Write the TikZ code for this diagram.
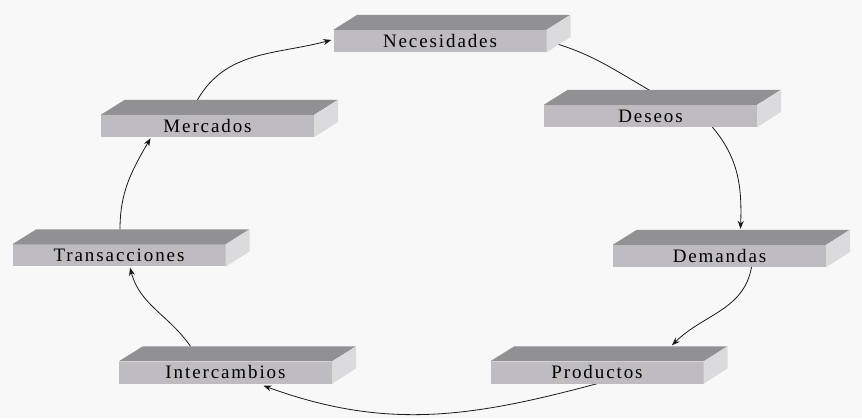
\documentclass[tikz,border=0pt]{standalone}
\usepackage{fontspec}
\newfontfamily\cajafont[LetterSpace=10]{Liberation Serif}
\usetikzlibrary{arrows.meta}

\definecolor{fondo}{RGB}{248,248,248}
\definecolor{cajatop}{RGB}{145,145,147}
\definecolor{cajafront}{RGB}{190,188,192}
\definecolor{cajaside}{RGB}{219,219,221}

\pgfdeclarelayer{bg}
\pgfsetlayers{bg,main}

\begin{document}
\begin{tikzpicture}[x=1pt,y=1pt,
		caja/.style={fill=cajafront, minimum width=213pt, minimum height=22pt, inner sep=0pt,
			font=\cajafont\fontsize{19}{22}\selectfont},
		flecha/.style={draw=black!90, line width=0.8pt, -{Stealth[length=8pt,width=6pt]}}]
		
		\useasboundingbox (0,0) rectangle (862,418);
		
		% Front faces of the boxes
		\node[caja] (nec) at (440,377) {Necesidades};
		\node[caja] (des) at (650.5,302) {Deseos};
		\node[caja] (dem) at (719.5,162) {Demandas};
		\node[caja] (pro) at (597,45.5) {Productos};
		\node[caja] (int) at (225.5,45.5) {Intercambios};
		\node[caja] (tra) at (119,162.5) {Transacciones};
		\node[caja] (mer) at (207.5,292) {Mercados};
		
		% Top and side faces
		\foreach \n in {nec,des,dem,pro,int,tra,mer} {
			\fill[cajatop] (\n.north west) -- ++(24,15) -- ++(213,0) -- (\n.north east) -- cycle;
			\fill[cajaside] (\n.north east) -- ++(24,15) -- ++(0,-22) -- (\n.south east) -- cycle;
		}
		
		% The cycle, drawn behind the boxes
		\begin{pgfonlayer}{bg}
			\fill[fondo] (0,0) rectangle (862,418);
			\draw[flecha,-] (nec.east) to[out=-15,in=150] ([yshift=14]des.north);
			\draw[flecha] ([xshift=62]des.south) to[out=-50,in=88] ([shift={(21,16)}]dem.north);
			\draw[flecha] ([xshift=32]dem.south) to[out=-100,in=45] ([shift={(75,16)}]pro.north);
			\draw[flecha] (pro.south) to[out=-165,in=-20] ([shift={(38,-2)}]int.south);
			\draw[flecha] ([shift={(-35,15)}]int.north) to[out=125,in=-75] ([shift={(11,-1)}]tra.south);
			\draw[flecha] ([shift={(1,15)}]tra.north) to[out=90,in=-120] ([shift={(-57,-1)}]mer.south);
			\draw[flecha] ([shift={(-10,15)}]mer.north) to[out=60,in=-165] ([shift={(-2,1)}]nec.west);
		\end{pgfonlayer}
		
	\end{tikzpicture}
\end{document}
